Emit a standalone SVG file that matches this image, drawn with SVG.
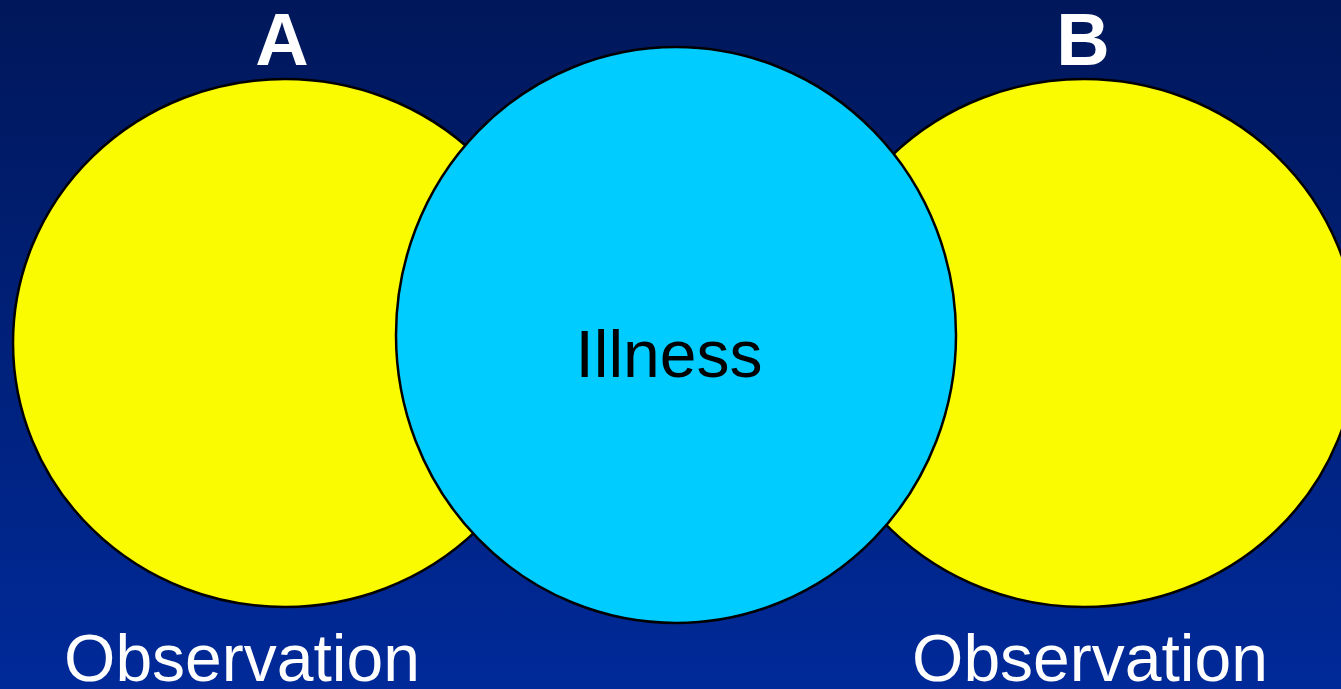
<svg xmlns="http://www.w3.org/2000/svg" width="1341" height="689" viewBox="0 0 1341 689">
<defs>
<linearGradient id="bg" x1="0" y1="0" x2="0" y2="1">
<stop offset="0" stop-color="#00175A"/>
<stop offset="1" stop-color="#002A99"/>
</linearGradient>
<style>
.yel{fill:#FAFA00;stroke:#000;stroke-width:2.5}
.cy{fill:#00CCFF;stroke:#000;stroke-width:2.5}
.lbl{font-family:"Liberation Sans",Arial,sans-serif;fill:#fff;text-anchor:middle}
.big{font-weight:bold;font-size:74px}
.obs{font-size:66px}
.ill{font-family:"Liberation Sans",Arial,sans-serif;font-size:66px;fill:#000;text-anchor:middle}
</style>
</defs>
<rect x="0" y="0" width="1341" height="689" fill="url(#bg)"/>
<g id="nodeA">
<ellipse class="yel" cx="285" cy="343" rx="272" ry="264"/>
<text class="lbl big" x="282" y="65">A</text>
<text class="lbl obs" x="242" y="681">Observation</text>
</g>
<g id="nodeB">
<ellipse class="yel" cx="1084" cy="343" rx="273" ry="264"/>
<text class="lbl big" x="1083" y="65">B</text>
<text class="lbl obs" x="1090" y="681">Observation</text>
</g>
<g id="nodeIllness">
<ellipse class="cy" cx="676" cy="335" rx="280" ry="288"/>
<text class="ill" x="669" y="377">Illness</text>
</g>
<g id="connectors"/>
</svg>
